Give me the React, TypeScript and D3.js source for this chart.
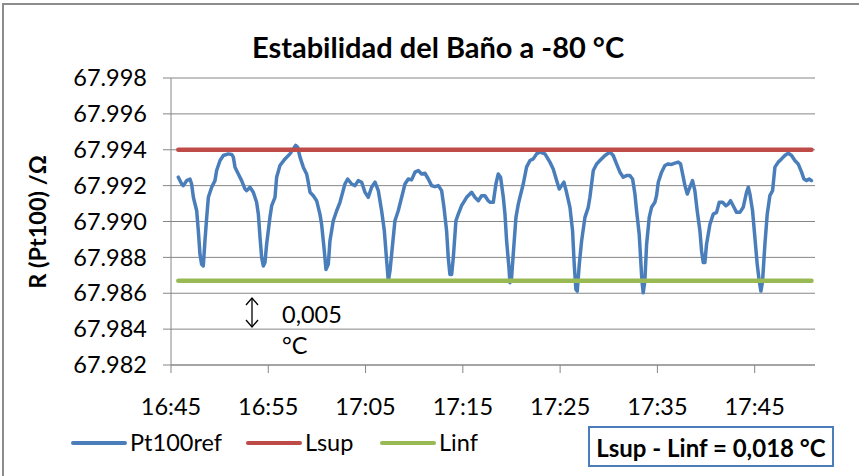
import React from "react";
import * as d3 from "d3";

// ---- data ----
const startLabel = "16:45";
const minutes = [
  0.75, 1.1, 1.27, 1.61, 1.95, 2.12, 2.3, 2.64, 2.81, 2.98, 3.15, 3.32, 3.49, 3.67, 3.84, 4.18, 4.52, 4.69, 5.04, 5.38,
  5.89, 6.24, 6.41, 6.58, 6.92, 7.26, 7.61, 7.78, 8.12, 8.46, 8.8, 8.98, 9.15, 9.32, 9.49, 9.66, 9.83, 10.17, 10.35, 10.69,
  10.86, 11.2, 11.72, 12.23, 12.57, 12.81, 13.02, 13.26, 13.6, 13.94, 14.11, 14.29, 14.63, 14.97, 15.31, 15.48, 15.76, 15.93, 16.17, 16.34,
  16.68, 17.03, 17.37, 17.88, 18.16, 18.57, 18.91, 19.25, 19.6, 19.94, 20.28, 20.62, 20.97, 21.31, 21.65, 21.93, 22.17, 22.34,
  22.51, 22.78, 23.02, 23.36, 23.71, 24.05, 24.39, 24.73, 25.08, 25.42, 25.76, 26.1, 26.45, 26.79, 27.13, 27.48, 27.82, 28.06, 28.33, 28.5,
  28.67, 28.85, 29.02, 29.29, 29.53, 29.87, 30.39, 30.9, 31.24, 31.59, 31.93, 32.27, 32.61, 32.79, 33.13, 33.4, 33.64, 33.88, 34.16, 34.33,
  34.5, 34.74, 34.84, 35.01, 35.18, 35.46, 35.7, 35.87, 36.21, 36.55, 36.9, 37.24, 37.58, 37.92, 38.44, 38.95, 39.29, 39.64, 39.91, 40.15,
  40.39, 40.66, 41.01, 41.28, 41.45, 41.62, 41.76, 41.97, 42.21, 42.55, 42.89, 43.06, 43.41, 43.75, 44.09, 44.61, 45.12,
  45.46, 45.8, 46.15, 46.49, 46.83, 47.17, 47.45, 47.69, 47.86, 48.13, 48.27, 48.41, 48.54, 48.71, 48.89, 49.16, 49.4, 49.74, 49.91, 50.09,
  50.43, 50.77, 51.11, 51.46, 51.8, 52.14, 52.38, 52.59, 52.83, 53.07, 53.34, 53.61, 53.85, 54.09, 54.37, 54.54, 54.71, 54.88, 55.05, 55.4,
  55.74, 56.08, 56.36, 56.7, 57.04, 57.28, 57.52, 57.79, 58.14, 58.48, 58.82, 59.16, 59.34, 59.51, 59.78, 60.02, 60.26, 60.47, 60.64, 60.81,
  61.05, 61.29, 61.56, 61.84, 62.08, 62.42, 62.76, 63.1, 63.45, 63.79, 64.13, 64.47, 64.82, 65.06, 65.33, 65.6, 65.84,
];
const pt100 = [
  67.99247, 67.99209, 67.992, 67.99228, 67.99237, 67.99209, 67.99135, 67.9906, 67.98948, 67.98817, 67.98761, 67.98752, 67.98892, 67.99023, 67.99135, 67.99191, 67.99228, 67.99284, 67.9934, 67.99368,
  67.99377, 67.99374, 67.99359, 67.99303, 67.99265, 67.99228, 67.99181, 67.99172, 67.99191, 67.99163, 67.99107, 67.99041, 67.98911, 67.98799, 67.98752, 67.98771, 67.98873, 67.99023, 67.99088, 67.99135,
  67.99247, 67.99312, 67.99349, 67.99377, 67.99405, 67.99424, 67.99415, 67.99359, 67.99303, 67.99265, 67.99219, 67.99163, 67.99144, 67.99116, 67.99041, 67.98985, 67.98836, 67.98733, 67.98761, 67.98892,
  67.99004, 67.9906, 67.99107, 67.99209, 67.99237, 67.99209, 67.992, 67.99228, 67.99219, 67.99163, 67.99135, 67.99191, 67.99219, 67.99172, 67.9906, 67.98948, 67.9878, 67.98668,
  67.98724, 67.98873, 67.99004, 67.9906, 67.99135, 67.99209, 67.99237, 67.99232, 67.99275, 67.99284, 67.99265, 67.99269, 67.99237, 67.992, 67.99194, 67.992, 67.99172, 67.99079, 67.98948, 67.98799,
  67.98705, 67.98705, 67.98799, 67.99004, 67.99041, 67.99088, 67.99135, 67.99163, 67.99135, 67.99116, 67.99144, 67.99144, 67.99116, 67.99107, 67.99107, 67.99209, 67.99265, 67.99247, 67.99135, 67.99041,
  67.98892, 67.98743, 67.98659, 67.98687, 67.98817, 67.99023, 67.99097, 67.99135, 67.99209, 67.99303, 67.9934, 67.99349, 67.99377, 67.99387, 67.99377, 67.99331, 67.99293, 67.99228, 67.99181, 67.992,
  67.99219, 67.99163, 67.99079, 67.98948, 67.98761, 67.98621, 67.98612, 67.98761, 67.98892, 67.99023, 67.99079, 67.99135, 67.99284, 67.99321, 67.9934, 67.99368, 67.99387,
  67.99368, 67.99321, 67.99275, 67.99247, 67.99256, 67.99256, 67.99237, 67.99153, 67.9906, 67.98929, 67.98799, 67.98668, 67.98603, 67.98668, 67.98873, 67.99023, 67.99079, 67.99107, 67.99144, 67.99219,
  67.99275, 67.99312, 67.99321, 67.99318, 67.99325, 67.99331, 67.99321, 67.99265, 67.992, 67.99153, 67.99191, 67.99228, 67.99172, 67.9906, 67.98948, 67.98836, 67.98771, 67.98771, 67.98873, 67.98985,
  67.99041, 67.99051, 67.99107, 67.99107, 67.99088, 67.99097, 67.99116, 67.99088, 67.99051, 67.99051, 67.99079, 67.99163, 67.99191, 67.99153, 67.9906, 67.98911, 67.98761, 67.98668, 67.98612, 67.98668,
  67.98873, 67.99041, 67.99144, 67.99172, 67.99303, 67.99331, 67.99349, 67.99368, 67.99381, 67.99368, 67.9934, 67.99321, 67.99275, 67.99237, 67.99228, 67.99237, 67.99228,
];
const lsupValue = 67.994;
const linfValue = 67.9867;
const xTickLabels = ["16:45", "16:55", "17:05", "17:15", "17:25", "17:35", "17:45"];
const yTickValues = [67.982, 67.984, 67.986, 67.988, 67.99, 67.992, 67.994, 67.996, 67.998];
const xDomainMinutes = [0, 66.2];
const seriesNames = ["Pt100ref", "Lsup", "Linf"];
const titleText = "Estabilidad del Baño a -80 °C";
const yAxisTitle = "R (Pt100) /Ω";
const noteValue = "0,005";
const noteUnit = "°C";
const boxText = "Lsup - Linf = 0,018 °C";

const W = 859;
const H = 476;
const FONT = "Lato, Carlito, Calibri, 'Liberation Sans', sans-serif";
const BLUE = "#4A7EBB";
const RED = "#BE4B48";
const GREEN = "#98B954";
const GRID = "#868686";

export default function App() {
  const parse = d3.timeParse("%H:%M");
  const base = parse(startLabel) as Date;
  const toDate = (m: number) => new Date(base.getTime() + m * 60000);

  const x = d3
    .scaleTime()
    .domain([toDate(xDomainMinutes[0]), toDate(xDomainMinutes[1])])
    .range([171, 815]);
  const y = d3.scaleLinear().domain([67.982, 67.998]).range([365, 78]);

  const pts = minutes.map((m, i) => ({ t: toDate(m), v: pt100[i] }));
  const line = d3
    .line<{ t: Date; v: number }>()
    .x((d) => x(d.t))
    .y((d) => y(d.v));

  const tFirst = pts[0].t;
  const tLast = pts[pts.length - 1].t;
  const lsupPts = [
    { t: tFirst, v: lsupValue },
    { t: tLast, v: lsupValue },
  ];
  const linfPts = [
    { t: tFirst, v: linfValue },
    { t: tLast, v: linfValue },
  ];

  const xTicks = xTickLabels.map((l) => ({ label: l, t: parse(l) as Date }));
  const [x0, x1] = x.range();
  const [yb, yt] = y.range();

  const legendColors = [BLUE, RED, GREEN];
  const legendX = [73, 248, 382];

  // annotation arrow
  const ax = 252;
  const ay0 = 298;
  const ay1 = 327;

  return (
    <svg
      width={W}
      height={H}
      viewBox={`0 0 ${W} ${H}`}
      style={{ position: "absolute", left: 0, top: 0, background: "#fff" }}
      fontFamily={FONT}
    >
      <rect x={0} y={0} width={W} height={H} fill="#fff" />
      {/* chart frame */}
      <rect x={3} y={4} width={W + 20} height={H + 20} fill="none" stroke="#8c8c8c" strokeWidth={2} />

      {/* title */}
      <text x={438} y={58} textAnchor="middle" fontSize={29} fontWeight={700} fill="#000">
        {titleText}
      </text>

      {/* gridlines */}
      {yTickValues.map((v) => (
        <line key={"g" + v} x1={x0} x2={x1} y1={y(v)} y2={y(v)} stroke={GRID} strokeWidth={1} />
      ))}
      {/* y axis */}
      <line x1={x0} x2={x0} y1={yt} y2={yb} stroke={GRID} strokeWidth={1} />
      {yTickValues.map((v) => (
        <g key={"yt" + v}>
          <line x1={x0 - 8} x2={x0} y1={y(v)} y2={y(v)} stroke={GRID} strokeWidth={1} />
          <text x={147} y={y(v)} dy="0.35em" textAnchor="end" fontSize={23.5} fill="#000">
            {v.toFixed(3)}
          </text>
        </g>
      ))}
      {/* x axis */}
      <line x1={x0} x2={x1} y1={yb} y2={yb} stroke={GRID} strokeWidth={1} />
      {xTicks.map((d) => (
        <g key={"xt" + d.label}>
          <line x1={x(d.t)} x2={x(d.t)} y1={yb} y2={yb + 8} stroke={GRID} strokeWidth={1} />
          <text x={x(d.t)} y={415} textAnchor="middle" fontSize={23.5} fill="#000">
            {d.label}
          </text>
        </g>
      ))}

      {/* y axis title */}
      <text
        transform={`translate(46, 222) rotate(-90)`}
        textAnchor="middle"
        fontSize={23.5}
        fontWeight={700}
        fill="#000"
      >
        {yAxisTitle}
      </text>

      {/* series */}
      <path d={line(pts) || ""} fill="none" stroke={BLUE} strokeWidth={3.5} strokeLinejoin="round" strokeLinecap="round" />
      <path d={line(lsupPts) || ""} fill="none" stroke={RED} strokeWidth={4.5} strokeLinecap="round" />
      <path d={line(linfPts) || ""} fill="none" stroke={GREEN} strokeWidth={4.5} strokeLinecap="round" />

      {/* annotation */}
      <g stroke="#000" strokeWidth={1.3} fill="none">
        <line x1={ax} x2={ax} y1={ay0} y2={ay1} />
        <polyline points={`${ax - 6},${ay0 + 7} ${ax},${ay0} ${ax + 6},${ay0 + 7}`} />
        <polyline points={`${ax - 6},${ay1 - 7} ${ax},${ay1} ${ax + 6},${ay1 - 7}`} />
      </g>
      <text x={282} y={323} fontSize={23.5} fill="#000">
        {noteValue}
      </text>
      <text x={282} y={354} fontSize={23.5} fill="#000">
        {noteUnit}
      </text>

      {/* legend */}
      {seriesNames.map((n, i) => (
        <g key={n}>
          <line
            x1={legendX[i]}
            x2={legendX[i] + 52}
            y1={443}
            y2={443}
            stroke={legendColors[i]}
            strokeWidth={4}
            strokeLinecap="round"
          />
          <text x={legendX[i] + 57} y={443} dy="0.35em" fontSize={23.5} fill="#000">
            {n}
          </text>
        </g>
      ))}

      {/* difference box */}
      <rect x={589} y={427} width={244} height={39} fill="#fff" stroke={BLUE} strokeWidth={2} />
      <text x={711} y={457} textAnchor="middle" fontSize={24} fontWeight={700} fill="#000">
        {boxText}
      </text>
    </svg>
  );
}
